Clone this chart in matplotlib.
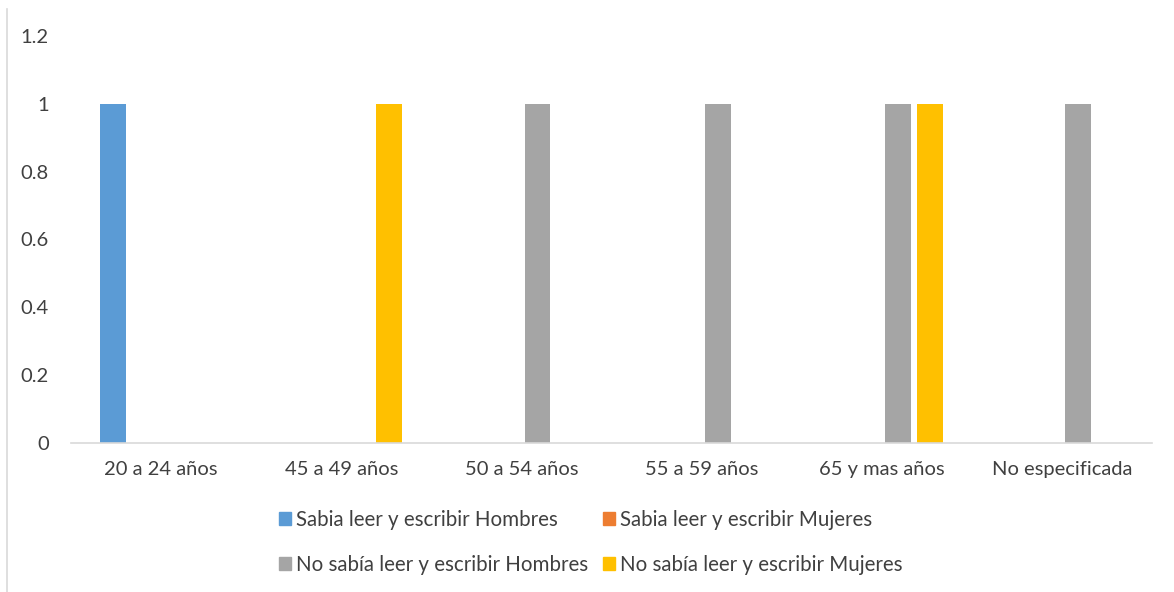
import numpy as np
import matplotlib
matplotlib.use("Agg")
import matplotlib.pyplot as plt
from matplotlib.lines import Line2D

# Data
categories = ["20 a 24 años", "45 a 49 años", "50 a 54 años", "55 a 59 años",
              "65 y mas años", "No especificada"]
series_names = ["Sabia leer y escribir Hombres", "Sabia leer y escribir Mujeres",
                "No sabía leer y escribir Hombres", "No sabía leer y escribir Mujeres"]
sabia_hombres = [1, 0, 0, 0, 0, 0]
sabia_mujeres = [0, 0, 0, 0, 0, 0]
no_sabia_hombres = [0, 0, 1, 1, 1, 1]
no_sabia_mujeres = [0, 1, 0, 0, 1, 0]
colors = ["#5b9bd5", "#ed7d31", "#a5a5a5", "#ffc000"]

plt.rcParams['font.family'] = ['Lato', 'DejaVu Sans']

fig = plt.figure(figsize=(11.74, 5.92), dpi=100)
ax = fig.add_axes([0.0605, 0.2517, 0.9208, 0.6875])

x = np.arange(len(categories))
slot = 0.178
width = 0.144
handles = []
for i, vals in enumerate([sabia_hombres, sabia_mujeres, no_sabia_hombres, no_sabia_mujeres]):
    ax.bar(x + (i - 1.5) * slot, vals, width, color=colors[i], zorder=2)
    handles.append(plt.Rectangle((0, 0), 1, 1, color=colors[i]))

ax.set_xlim(-0.5, len(categories) - 0.5)
ax.set_ylim(0, 1.2)
ax.set_yticks([0, 0.2, 0.4, 0.6, 0.8, 1, 1.2])
ax.set_yticklabels(["0", "0.2", "0.4", "0.6", "0.8", "1", "1.2"])
ax.set_xticks(x)
ax.set_xticklabels(categories)
ax.tick_params(axis='both', length=0, labelsize=14.5, colors="#404040")
ax.tick_params(axis='y', pad=16)
ax.tick_params(axis='x', pad=13)
for s in ["top", "right", "left"]:
    ax.spines[s].set_visible(False)
ax.spines["bottom"].set_color("#d9d9d9")
ax.spines["bottom"].set_linewidth(1.2)

# legend, row by row
order = [0, 2, 1, 3]
leg = fig.legend([handles[k] for k in order], [series_names[k] for k in order],
                 ncol=2, loc="center", bbox_to_anchor=(0.503, 0.084),
                 frameon=False, fontsize=14.8, handlelength=0.6, handleheight=0.6,
                 handletextpad=0.25, columnspacing=0.7, labelspacing=1.2)
for t in leg.get_texts():
    t.set_color("#404040")

# chart-area border on the left
fig.add_artist(Line2D([0.006, 0.006], [0.0, 0.985], color="#d9d9d9", lw=1.2))

fig.savefig("out.png", dpi=100)
